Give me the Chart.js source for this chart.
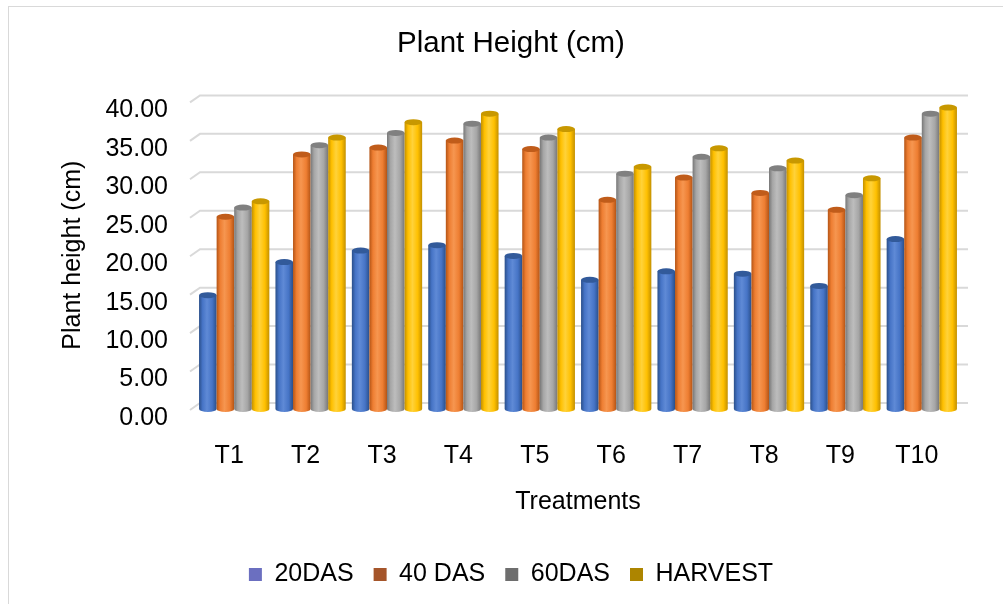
<!DOCTYPE html>
<html>
<head>
<meta charset="utf-8">
<script src="https://cdn.jsdelivr.net/npm/chart.js@4.4.0/dist/chart.umd.min.js"></script>
<style>
  html, body { margin: 0; padding: 0; background: #fff; }
  #contenedor { position: relative; width: 1003px; height: 604px; }
</style>
</head>
<body>
<div id="contenedor"><canvas id="graficaAltura" width="1003" height="604"></canvas></div>
<script>
// datos
const tratamientos = ['T1', 'T2', 'T3', 'T4', 'T5', 'T6', 'T7', 'T8', 'T9', 'T10'];
const das20   = [14.8, 19.1, 20.6, 21.3, 19.9, 16.8, 17.9, 17.6, 16.0, 22.1];
const das40   = [25.0, 33.1, 34.0, 34.9, 33.8, 27.2, 30.1, 28.1, 25.9, 35.3];
const das60   = [26.2, 34.3, 35.9, 37.1, 35.3, 30.6, 32.8, 31.3, 27.8, 38.4];
const cosecha = [27.0, 35.3, 37.3, 38.4, 36.4, 31.5, 33.9, 32.3, 30.0, 39.2];
const marcasY = [0, 5, 10, 15, 20, 25, 30, 35, 40];

const fuente = "'Liberation Sans', Arial, sans-serif";
Chart.defaults.font.family = fuente;
Chart.defaults.color = '#000000';

// colores: cuerpo, borde oscuro, tapa, cuadro de leyenda
const estilos = [
    { cuerpo: '#4674c6', claro: '#5f8ad6', oscuro: '#2a4f8a', tapa: '#325a9a', leyenda: '#6b6fc0' },
    { cuerpo: '#ee7e32', claro: '#f69650', oscuro: '#b45415', tapa: '#c05c1a', leyenda: '#a5552a' },
    { cuerpo: '#a6a6a6', claro: '#bdbdbd', oscuro: '#777777', tapa: '#808080', leyenda: '#6e6e6e' },
    { cuerpo: '#ffc000', claro: '#ffd23a', oscuro: '#c39000', tapa: '#c89800', leyenda: '#ad8500' }
];

const marco = {
    id: 'marco',
    beforeDraw(chart) {
        const ctx = chart.ctx;
        ctx.save();
        ctx.fillStyle = '#ffffff';
        ctx.fillRect(0, 0, chart.width, chart.height);
        ctx.strokeStyle = '#d9d9d9';
        ctx.lineWidth = 1;
        ctx.strokeRect(8.5, 6.5, 1100, 700);
        ctx.restore();
    }
};

// rejilla de fondo y barras en forma de cilindro
const cilindros = {
    id: 'cilindros',
    beforeDatasetsDraw(chart) {
        const ctx = chart.ctx;
        const area = chart.chartArea;
        const y = chart.scales.y;
        ctx.save();
        ctx.strokeStyle = '#d9d9d9';
        ctx.lineWidth = 2;
        y.ticks.forEach(t => {
            const py = y.getPixelForValue(t.value);
            ctx.beginPath();
            ctx.moveTo(area.left - 6, py + 1);
            ctx.lineTo(area.left + 4, py - 6);
            ctx.lineTo(area.right + 8, py - 6);
            ctx.stroke();
        });

        const ry = 3;
        chart.data.datasets.forEach((ds, i) => {
            const meta = chart.getDatasetMeta(i);
            const est = estilos[i];
            meta.data.forEach(el => {
                const { x, y: top, base, width } = el.getProps(['x', 'y', 'base', 'width'], true);
                const l = x - width / 2, r = x + width / 2;
                const grad = ctx.createLinearGradient(l, 0, r, 0);
                grad.addColorStop(0, est.oscuro);
                grad.addColorStop(0.2, est.cuerpo);
                grad.addColorStop(0.45, est.claro);
                grad.addColorStop(0.75, est.cuerpo);
                grad.addColorStop(1, est.oscuro);
                ctx.beginPath();
                ctx.moveTo(l, top);
                ctx.lineTo(l, base);
                ctx.ellipse(x, base, width / 2, ry, 0, Math.PI, 0, true);
                ctx.lineTo(r, top);
                ctx.closePath();
                ctx.fillStyle = grad;
                ctx.fill();
                ctx.beginPath();
                ctx.ellipse(x, top, width / 2, ry, 0, 0, Math.PI * 2);
                ctx.fillStyle = est.tapa;
                ctx.fill();
            });
        });
        ctx.restore();
        return false;
    }
};

const series = [
    { label: '20DAS', data: das20 },
    { label: '40 DAS', data: das40 },
    { label: '60DAS', data: das60 },
    { label: 'HARVEST', data: cosecha }
];

new Chart(document.getElementById('graficaAltura'), {
    type: 'bar',
    data: {
        labels: tratamientos,
        datasets: series.map((s, i) => ({
            label: s.label,
            data: s.data,
            backgroundColor: estilos[i].leyenda,
            borderWidth: 0,
            categoryPercentage: 0.92,
            barPercentage: 1.0
        }))
    },
    options: {
        responsive: false,
        animation: false,
        devicePixelRatio: 1,
        layout: { padding: { left: 19, right: 0, top: 10, bottom: 7 } },
        plugins: {
            title: {
                display: true,
                text: 'Plant Height (cm)',
                color: '#000000',
                font: { size: 29.5, weight: 'normal' },
                padding: { top: 16, bottom: 40 }
            },
            legend: {
                position: 'bottom',
                labels: {
                    color: '#000000',
                    font: { size: 25 },
                    boxWidth: 13,
                    boxHeight: 13,
                    padding: 20
                }
            },
            tooltip: { enabled: false }
        },
        scales: {
            x: {
                grid: { display: false, drawTicks: false },
                border: { display: false },
                ticks: { font: { size: 25 }, padding: 32, labelOffset: -5, color: '#000000' },
                title: {
                    display: true,
                    text: 'Treatments',
                    font: { size: 25 },
                    color: '#000000',
                    padding: { top: 0, bottom: 25 }
                },
                afterFit: s => { s.height = 133; }
            },
            y: {
                min: 0,
                max: 40,
                grid: { display: false, drawTicks: false },
                border: { display: false },
                afterBuildTicks: s => { s.ticks = marcasY.map(v => ({ value: v })); },
                ticks: {
                    font: { size: 25 },
                    padding: 28,
                    labelOffset: 9,
                    color: '#000000',
                    callback: v => Number(v).toFixed(2)
                },
                title: {
                    display: true,
                    text: 'Plant height (cm)',
                    font: { size: 25 },
                    color: '#000000',
                    padding: { top: 39, bottom: 0 }
                },
                afterFit: s => { s.width = 177; }
            },
            derecha: {
                position: 'right',
                display: true,
                grid: { display: false, drawTicks: false },
                border: { display: false },
                ticks: { display: false },
                afterFit: s => { s.width = 43; }
            }
        }
    },
    plugins: [marco, cilindros]
});
</script>
</body>
</html>
